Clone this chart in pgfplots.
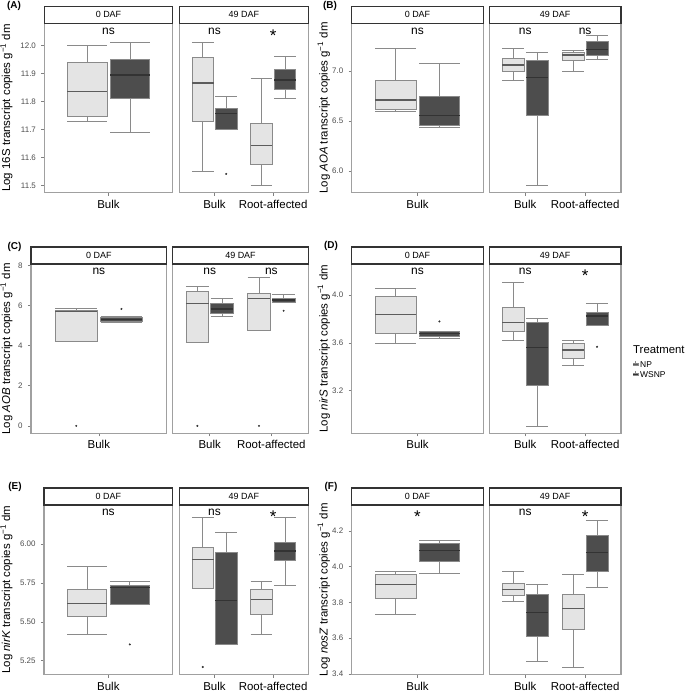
\documentclass[border=0pt]{standalone}
\usepackage{fontspec}
\setmainfont{Liberation Sans}
\usepackage{pgfplots}
\pgfplotsset{compat=1.18}

\definecolor{npfill}{HTML}{E4E4E4}
\definecolor{wsfill}{HTML}{4D4D4D}
\definecolor{boxline}{HTML}{8A8A8A}
\definecolor{npmedc}{HTML}{5C5C5C}
\definecolor{wsmedc}{HTML}{333333}
\definecolor{framecol}{HTML}{A0A0A0}
\definecolor{stripcol}{HTML}{333333}
\definecolor{tickcol}{HTML}{808080}
\definecolor{ticklab}{HTML}{4D4D4D}
\definecolor{outl}{HTML}{333333}

\newcommand{\fs}[1]{\fontsize{#1}{#1}\selectfont}

\pgfplotsset{
  facet/.style={
    scale only axis, height=169.3bp, anchor=south west, clip=false,
    axis line style={draw=framecol, line width=1.1bp},
    tick align=outside, tick pos=left, major tick length=3.2bp,
    tick style={draw=tickcol, line width=0.6bp},
    yticklabel style={font=\fs{8}, text=ticklab, anchor=east, inner sep=0pt, xshift=-5bp},
    xticklabel style={font=\fs{11.5}, text=black, anchor=north, inner sep=0pt, yshift=-4bp},
  },
  strip/.style={extra description/.code={
      \draw[stripcol, line width=1.1bp, fill=white] (0,1) rectangle ([yshift=17bp]1,1);
      \node[font=\fs{9}] at ([yshift=8.5bp]0.5,1) {#1};}},
  zero/.style={facet, strip={0 DAF}, xmin=0.4, xmax=1.6, xtick={1}, xticklabels={Bulk}},
  late/.style={facet, strip={49 DAF}, xmin=0.4, xmax=2.6, xtick={1,2},
    xticklabels={Bulk,Root-affected}, ytick=\empty},
  whisk/.style={draw=boxline, line width=0.6bp},
  NPbox/.style={draw=boxline, fill=npfill, line width=0.6bp},
  WSbox/.style={draw=boxline, fill=wsfill, line width=0.6bp},
  NPmed/.style={draw=npmedc, line width=1.3bp},
  WSmed/.style={draw=wsmedc, line width=1.3bp},
  outlier/.style={only marks, mark=*, mark size=0.8bp, mark options={draw=outl, fill=outl}},
}

% box: NP|WS, position, lower whisker, q1, median, q3, upper whisker
\newcommand{\bxp}[7]{%
  \pgfmathsetmacro\xL{#2-0.185}\pgfmathsetmacro\xR{#2+0.185}%
  \edef\doit{%
    \noexpand\addplot[whisk] coordinates {(#2,#3) (#2,#7)};
    \noexpand\addplot[whisk] coordinates {(\xL,#3) (\xR,#3)};
    \noexpand\addplot[whisk] coordinates {(\xL,#7) (\xR,#7)};
    \noexpand\addplot[#1box] coordinates {(\xL,#4) (\xR,#4) (\xR,#6) (\xL,#6)} -- cycle;
    \noexpand\addplot[#1med] coordinates {(\xL,#5) (\xR,#5)};
  }\doit}
\newcommand{\outp}[2]{\addplot[outlier] coordinates {(#1,#2)};}
% annotations, x given as fraction of the facet width
\newcommand{\ns}[1]{\node[font=\fs{12}, anchor=base] at (rel axis cs:#1,0.937) {ns};}
\newcommand{\sig}[1]{\node[font=\fs{17}, anchor=base] at (rel axis cs:#1,0.895) {*};}
\newcommand{\ylab}[1]{Log #1 transcript copies g\textsuperscript{−1} dm}

\begin{document}
\begin{tikzpicture}
\useasboundingbox (0bp,0bp) rectangle (685bp,691bp);

% ---------------- (A) 16S
\begin{axis}[zero, at={(44.3bp,498.3bp)}, width=128.4bp, ymin=11.475, ymax=12.078,
  ytick={11.5,11.6,11.7,11.8,11.9,12.0}, yticklabels={11.5,11.6,11.7,11.8,11.9,12.0}]
\bxp{NP}{0.8}{11.731}{11.746}{11.836}{11.940}{12.000}
\bxp{WS}{1.2}{11.690}{11.810}{11.894}{11.949}{12.011}
\ns{0.5}
\end{axis}
\begin{axis}[late, at={(179.3bp,498.3bp)}, width=129bp, ymin=11.475, ymax=12.078]
\bxp{NP}{0.8}{11.552}{11.730}{11.866}{11.956}{12.010}
\bxp{WS}{1.2}{11.700}{11.700}{11.757}{11.776}{11.820}
\outp{1.2}{11.542}
\bxp{NP}{1.8}{11.502}{11.577}{11.642}{11.723}{11.884}
\bxp{WS}{2.2}{11.811}{11.842}{11.876}{11.915}{11.961}
\ns{0.2727}\sig{0.7273}
\end{axis}

% ---------------- (B) AOA
\begin{axis}[zero, at={(351.7bp,498.3bp)}, width=131.6bp, ymin=5.783, ymax=7.477,
  ytick={6,6.5,7}, yticklabels={6.0,6.5,7.0}]
\bxp{NP}{0.8}{6.597}{6.617}{6.710}{6.907}{7.227}
\bxp{WS}{1.2}{6.437}{6.460}{6.557}{6.747}{7.080}
\ns{0.5}
\end{axis}
\begin{axis}[late, at={(489.3bp,498.3bp)}, width=131.7bp, ymin=5.783, ymax=7.477]
\bxp{NP}{0.8}{6.910}{7.000}{7.060}{7.123}{7.227}
\bxp{WS}{1.2}{5.857}{6.560}{6.937}{7.103}{7.187}
\bxp{NP}{1.8}{7.000}{7.107}{7.160}{7.187}{7.210}
\bxp{WS}{2.2}{7.120}{7.153}{7.217}{7.293}{7.353}
\ns{0.2727}\ns{0.7273}
\end{axis}

% ---------------- (C) AOB
\begin{axis}[zero, at={(31bp,257.7bp)}, width=135.7bp, ymin=-0.37, ymax=8.07,
  ytick={0,2,4,6,8}, yticklabels={0,2,4,6,8}]
\bxp{NP}{0.8}{4.22}{4.22}{5.70}{5.75}{5.88}
\outp{0.8}{0.0}
\bxp{WS}{1.2}{5.18}{5.22}{5.30}{5.42}{5.45}
\outp{1.2}{5.83}
\ns{0.5}
\end{axis}
\begin{axis}[late, at={(172.7bp,257.7bp)}, width=135.6bp, ymin=-0.37, ymax=8.07]
\bxp{NP}{0.8}{4.17}{4.17}{6.10}{6.70}{6.98}
\outp{0.8}{0.0}
\bxp{WS}{1.2}{5.48}{5.60}{5.82}{6.10}{6.37}
\bxp{NP}{1.8}{4.75}{4.75}{6.35}{6.60}{7.40}
\outp{1.8}{0.0}
\bxp{WS}{2.2}{6.15}{6.15}{6.27}{6.37}{6.57}
\outp{2.2}{5.74}
\ns{0.2727}\ns{0.7273}
\end{axis}

% ---------------- (D) nirS
\begin{axis}[zero, at={(351.7bp,257.7bp)}, width=131.6bp, ymin=2.843, ymax=4.26,
  ytick={3.2,3.6,4.0}, yticklabels={3.2,3.6,4.0}]
\bxp{NP}{0.8}{3.597}{3.681}{3.835}{3.986}{4.056}
\bxp{WS}{1.2}{3.639}{3.659}{3.676}{3.695}{3.700}
\outp{1.2}{3.779}
\ns{0.5}
\end{axis}
\begin{axis}[late, at={(489.3bp,257.7bp)}, width=131.7bp, ymin=2.843, ymax=4.26]
\bxp{NP}{0.8}{3.620}{3.695}{3.773}{3.900}{4.106}
\bxp{WS}{1.2}{2.901}{3.248}{3.561}{3.768}{3.804}
\bxp{NP}{1.8}{3.416}{3.469}{3.539}{3.595}{3.622}
\bxp{WS}{2.2}{3.746}{3.746}{3.824}{3.857}{3.930}
\outp{2.2}{3.567}
\ns{0.2727}\sig{0.7273}
\end{axis}

% ---------------- (E) nirK
\begin{axis}[zero, at={(44bp,16.7bp)}, width=128.7bp, ymin=5.163, ymax=6.251,
  ytick={5.25,5.5,5.75,6}, yticklabels={5.25,5.50,5.75,6.00}]
\bxp{NP}{0.8}{5.419}{5.537}{5.617}{5.707}{5.854}
\bxp{WS}{1.2}{5.612}{5.612}{5.719}{5.737}{5.758}
\outp{1.2}{5.355}
\ns{0.5}
\end{axis}
\begin{axis}[late, at={(179.3bp,16.7bp)}, width=129bp, ymin=5.163, ymax=6.251]
\bxp{NP}{0.8}{5.715}{5.715}{5.901}{5.980}{6.169}
\outp{0.8}{5.210}
\bxp{WS}{1.2}{5.355}{5.357}{5.638}{5.949}{6.073}
\bxp{NP}{1.8}{5.420}{5.548}{5.642}{5.711}{5.758}
\bxp{WS}{2.2}{5.734}{5.895}{5.955}{6.011}{6.171}
\ns{0.2727}\sig{0.7273}
\end{axis}

% ---------------- (F) nosZ
\begin{axis}[zero, at={(351.7bp,16.7bp)}, width=131.6bp, ymin=3.398, ymax=4.346,
  ytick={3.4,3.6,3.8,4.0,4.2}, yticklabels={3.4,3.6,3.8,4.0,4.2}]
\bxp{NP}{0.8}{3.733}{3.822}{3.901}{3.957}{3.976}
\bxp{WS}{1.2}{3.963}{4.028}{4.090}{4.133}{4.151}
\sig{0.5}
\end{axis}
\begin{axis}[late, at={(489.3bp,16.7bp)}, width=131.7bp, ymin=3.398, ymax=4.346]
\bxp{NP}{0.8}{3.808}{3.841}{3.871}{3.907}{3.976}
\bxp{WS}{1.2}{3.472}{3.612}{3.744}{3.847}{3.901}
\bxp{NP}{1.8}{3.438}{3.649}{3.765}{3.847}{3.957}
\bxp{WS}{2.2}{3.883}{3.974}{4.080}{4.178}{4.258}
\ns{0.2727}\sig{0.7273}
\end{axis}

% axis titles
\begin{scope}[every node/.style={font=\fs{11.5}, rotate=90, anchor=base}]
\node at (10.2bp,583bp) {\ylab{16S}};
\node at (327.5bp,583bp) {\ylab{\textit{AOA}}};
\node at (10.2bp,342.2bp) {\ylab{\textit{AOB}}};
\node at (327.5bp,342.2bp) {\ylab{\textit{nirS}}};
\node at (10.2bp,101.3bp) {\ylab{\textit{nirK}}};
\node at (327.5bp,101.3bp) {\ylab{\textit{nosZ}}};
\end{scope}

% panel tags
\begin{scope}[every node/.style={font=\fs{10}\bfseries}]
\node at (14bp,685.5bp) {(A)};
\node at (330bp,685.5bp) {(B)};
\node at (14.5bp,444.5bp) {(C)};
\node at (331bp,445bp) {(D)};
\node at (15bp,204.5bp) {(E)};
\node at (331bp,204.5bp) {(F)};
\end{scope}

% legend
\node[font=\fs{11.4}, anchor=west, inner sep=0pt] at (633bp,341bp) {Treatment};
\draw[boxline, line width=0.5bp] (635.7bp,329.5bp) -- (635.7bp,324.5bp);
\draw[boxline, line width=0.5bp, fill=npfill] (633.4bp,328.2bp) rectangle (638bp,325.8bp);
\draw[npmedc, line width=0.6bp] (633.4bp,327bp) -- (638bp,327bp);
\node[font=\fs{8.5}, anchor=west, inner sep=0pt] at (640bp,326.5bp) {NP};
\draw[boxline, line width=0.5bp] (635.7bp,319.5bp) -- (635.7bp,314.5bp);
\draw[boxline, line width=0.5bp, fill=wsfill] (633.4bp,318.2bp) rectangle (638bp,315.8bp);
\draw[wsmedc, line width=0.6bp] (633.4bp,317bp) -- (638bp,317bp);
\node[font=\fs{8.5}, anchor=west, inner sep=0pt] at (640bp,316.5bp) {WSNP};
\end{tikzpicture}
\end{document}
